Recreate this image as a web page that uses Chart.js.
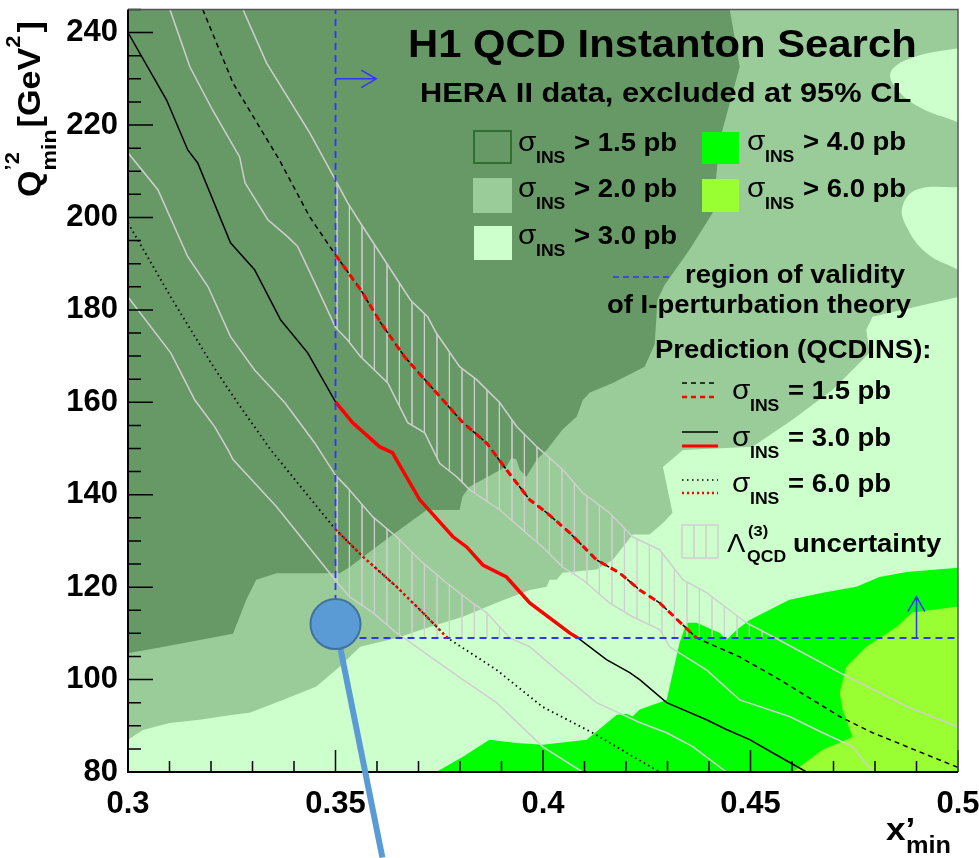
<!DOCTYPE html>
<html>
<head>
<meta charset="utf-8">
<title>H1 QCD Instanton Search</title>
<script src="https://cdn.jsdelivr.net/npm/chart.js@4.4.1/dist/chart.umd.min.js"></script>
<style>
  html, body { margin: 0; padding: 0; background: #fff; }
  #wrap { position: relative; width: 979px; height: 858px; }
</style>
</head>
<body>
<div id="wrap"><canvas id="plot"></canvas></div>
<script>
// axes
const xTicks = [0.3, 0.35, 0.4, 0.45, 0.5];
const yTicks = [80, 100, 120, 140, 160, 180, 200, 220, 240];
const X_MIN = 0.3, X_MAX = 0.5, Y_MIN = 80, Y_MAX = 245;
const xMinorStep = 0.01, yMinorStep = 5;

// region of validity of I-perturbation theory
const xValid = 0.35, yValid = 109;

// excluded at 95% CL : sigma_INS > 2.0 pb (edge of the >1.5 pb only area)
const region20 = [[0.3,105.7],[0.3093,107.2],[0.3253,109.9],[0.3285,117.3],[0.3309,121.6],[0.3358,123.0],
  [0.351,123.0],[0.3535,124.4],[0.3631,130.9],[0.372,136.7],[0.3799,136.7],[0.3806,139.6],[0.3823,141.7],
  [0.3912,146.1],[0.3924,148.0],[0.3936,147.6],[0.3944,145.4],[0.396,143.9],[0.3985,147.6],[0.4009,149.7],
  [0.4047,154.1],[0.4081,156.9],[0.4096,160.5],[0.4113,162.1],[0.4168,164.2],[0.4245,167.7],[0.4269,172.5],
  [0.4276,182.2],[0.4293,185.4],[0.4353,193.0],[0.4409,201.0],[0.4426,216.8],[0.4474,232.6],[0.445,245],
  [0.5,245],[0.5,80],[0.3,80]];
// sigma_INS > 3.0 pb
const region30 = [[0.3,87.0],[0.3036,89.1],[0.31,90.6],[0.3173,91.3],[0.3253,92.4],[0.3293,92.8],[0.3373,95.6],
  [0.3454,98.5],[0.351,102.8],[0.3559,107.1],[0.3647,109.0],[0.3727,111.4],[0.3807,113.6],[0.3888,116.6],
  [0.3968,119.4],[0.4009,120.1],[0.4016,121.6],[0.4033,121.6],[0.4047,123.1],[0.4129,123.8],[0.4168,125.9],
  [0.4216,131.4],[0.4257,131.4],[0.4293,134.2],[0.4312,136.1],[0.4289,146.0],[0.4337,149.7],[0.4505,150.4],
  [0.4601,156.2],[0.4698,162.7],[0.4787,170.7],[0.4779,175.7],[0.4794,178.5],[0.5,182.8],[0.5,80],[0.3,80]];
const region30b = [[0.5,236.6],[0.49,234.9],[0.4842,232.1],[0.4842,229.1],[0.49,224.2],[0.5,220.6]];
const region30c = [[0.5,206.6],[0.49,206.0],[0.4866,202.3],[0.4876,198.0],[0.4924,192.3],[0.5,188.7]];
// sigma_INS > 4.0 pb
const region40 = [[0.3743,80],[0.3807,83.3],[0.3871,87.0],[0.3936,86.3],[0.3999,85.9],[0.4105,87.0],[0.4178,92.4],
  [0.4201,92.6],[0.4216,92.0],[0.4233,93.5],[0.4298,95.6],[0.4329,107.9],[0.4346,112.3],[0.437,112.3],
  [0.4426,110.1],[0.4442,108.6],[0.4467,110.8],[0.4498,112.9],[0.4594,117.3],[0.4674,118.8],[0.4755,120.1],
  [0.4811,122.2],[0.4876,123.3],[0.5,124.2],[0.5,80]];
// sigma_INS > 6.0 pb
const region60 = [[0.4601,80],[0.4674,84.8],[0.4746,87.6],[0.4722,93.5],[0.4715,97.2],[0.4731,102.8],
  [0.4779,107.1],[0.4852,111.4],[0.489,114.5],[0.5,115.8],[0.5,80]];

// QCDINS predictions
const pred15 = [[0.318,245],[0.3253,229.1],[0.3365,212.4],[0.3438,200.1],[0.35,191.9],[0.3561,184.3],[0.3609,177.2],
  [0.3667,169.8],[0.3722,164.2],[0.3752,161.2],[0.3807,155.6],[0.3864,151.2],[0.3912,145.4],[0.3968,138.9],
  [0.4009,136.1],[0.4064,131.8],[0.4129,125.9],[0.4184,123.1],[0.4233,119.4],[0.4281,116.6],[0.437,109],
  [0.4474,104.9],[0.457,100.0],[0.4715,92.0],[0.4794,88.5],[0.5,81.0]];
const pred30 = [[0.3,240],[0.3093,225.4],[0.3144,214.6],[0.3168,211.8],[0.3247,194.5],[0.3305,188.7],[0.3368,177.8],
  [0.3433,170.7],[0.35,160.1],[0.3541,155.6],[0.3606,150.4],[0.3637,149.1],[0.3703,138.9],[0.3783,130.9],
  [0.3816,128.7],[0.3855,124.8],[0.3912,122.2],[0.3968,116.6],[0.4064,110.1],[0.4084,109],[0.4153,104.3],
  [0.4209,101.5],[0.4233,100.0],[0.4298,95.0],[0.4394,91.3],[0.4442,89.2],[0.4498,87.0],[0.457,83.3],[0.4635,80]];
const pred60 = [[0.3,198.8],[0.3103,182.8],[0.32,168.5],[0.3264,159.9],[0.3344,149.7],[0.35,132.5],[0.3566,126.6],
  [0.3647,120.1],[0.371,114.5],[0.377,109],[0.3888,102.1],[0.3999,94.1],[0.4119,88.5],[0.4281,80]];

// Lambda_QCD uncertainty edges
const band15Lo = [[0.3101,245],[0.3149,232.6],[0.3204,223.2],[0.3269,213.1],[0.3282,207.5],[0.3337,199.5],
  [0.3385,195.8],[0.3409,193.7],[0.345,185.9],[0.35,176.2],[0.3529,173.5],[0.356,169.9],[0.3626,164.2],
  [0.3674,155.6],[0.3715,153.4],[0.3751,146.8],[0.3792,143.9],[0.3823,141.1],[0.3896,136.7],[0.3951,132.4],
  [0.3999,128.7],[0.4047,124.4],[0.4096,121.6],[0.416,116.6],[0.4216,113.6],[0.4281,110.8],[0.4293,109],
  [0.4305,107.1],[0.4394,102.1],[0.4474,95.6],[0.4594,92.0],[0.4674,88.5],[0.4746,85.5],[0.4794,80]];
const band15Hi = [[0.3277,245],[0.3334,233.4],[0.3438,218.3],[0.35,208.1],[0.3529,203.2],[0.356,198.8],
  [0.3618,190.8],[0.3681,182.1],[0.3722,178.5],[0.3743,175.0],[0.3799,167.7],[0.384,164.9],[0.3896,159.9],
  [0.3937,154.7],[0.3985,150.4],[0.4048,145.4],[0.4096,140.4],[0.416,136.1],[0.4216,130.9],[0.4281,128.1],
  [0.4337,121.6],[0.4394,118.8],[0.449,112.3],[0.456,109],[0.4715,101.5],[0.4876,94.2],[0.5,89.8]];
const band60Hi = [[0.3,214],[0.3072,206],[0.3144,191.5],[0.3193,185],[0.3247,174.2],[0.3305,167],[0.3378,159.9],
  [0.345,151.2],[0.35,144.2],[0.3527,141.7],[0.359,135.2],[0.3647,130.9],[0.371,125.3],[0.3768,120.9],
  [0.383,116.6],[0.3864,114.5],[0.392,109],[0.3968,107.1],[0.4033,102.1],[0.4129,95.0],[0.4233,90.7],
  [0.4298,88.5],[0.4361,85.5],[0.4442,80]];
const band60Lo = [[0.3,182.8],[0.3103,170.7],[0.3161,160.5],[0.3209,154.7],[0.3241,149.7],[0.3253,147.6],
  [0.3358,137.4],[0.35,121.5],[0.3534,117.9],[0.359,114.5],[0.3647,110.1],[0.3665,109],[0.3727,105.0],
  [0.3807,100.0],[0.3888,95.0],[0.3999,85.5],[0.4095,80]];

// arrows of the validity region, and the blue marker
const arrowRight = [[0.35,230],[0.3598,230]];
const arrowRightHead = [[0.3562,231.9],[0.3598,230],[0.3562,228.1]];
const arrowUp = [[0.49,109],[0.49,117.9]];
const arrowUpHead = [[0.4879,114.7],[0.49,117.9],[0.492,114.7]];
const marker = [[0.35,112]];
const markerStem = [[0.35,112],[0.3613,61.5]];

const areaLabels = ['> 1.5 pb', '> 2.0 pb', '> 3.0 pb', '> 4.0 pb', '> 6.0 pb'];
const lineLabels = ['= 1.5 pb', '= 3.0 pb', '= 6.0 pb'];

const C_BG = '#669966', C_20 = '#99cc99', C_30 = '#ccffcc', C_40 = '#00ff00', C_60 = '#99ff33';
const C_GREY = '#cfcfcf', C_BLUE = '#3333ff', C_RED = '#ff0000';
const FONT = '"Liberation Sans", Arial, Helvetica, sans-serif';
const SX = 1.1;

const inValid = p => p[0] >= xValid && p[1] >= yValid;

function hatch() {
  const c = document.createElement('canvas');
  c.width = 25; c.height = 10;
  const g = c.getContext('2d');
  g.strokeStyle = C_GREY; g.lineWidth = 1.5;
  g.beginPath();
  g.moveTo(12, 0); g.lineTo(12, 10);
  g.moveTo(24.5, 0); g.lineTo(24.5, 10);
  g.stroke();
  return g.createPattern(c, 'repeat');
}
const hatchFill = hatch();

const poly = (data, color, extra) => Object.assign({ data, showLine: true, fill: 'shape',
  backgroundColor: color, borderWidth: 0, pointRadius: 0 }, extra);
const curve = (data, color, width, dash, extra) => Object.assign({ data, showLine: true, fill: false,
  borderColor: color, borderWidth: width, borderDash: dash || [], pointRadius: 0 }, extra);

const layers = [
  poly(region20, C_20),
  poly(region30, C_30),
  poly(region30b, C_30, { tension: 0.4 }),
  poly(region30c, C_30, { tension: 0.4 }),
  poly(region40, C_40),
  poly(region60, C_60),
  poly([...band15Lo.filter(inValid), ...band15Hi.filter(inValid).reverse()], hatchFill),
  poly([...band60Lo.filter(inValid), ...band60Hi.filter(inValid).reverse()], hatchFill),
  curve(band15Lo, C_GREY, 1.5),
  curve(band15Hi, C_GREY, 1.5),
  curve(band60Lo, C_GREY, 1.5),
  curve(band60Hi, C_GREY, 1.5),
  curve(pred15, '#000', 1.5, [5, 4]),
  curve(pred30, '#000', 1.5),
  curve(pred60, '#000', 1.8, [1.5, 3.5]),
  curve(pred15.filter(inValid), C_RED, 3, [7, 5]),
  curve(pred30.filter(inValid), C_RED, 3.5),
  curve(pred60.filter(inValid), C_RED, 2.5, [2.5, 3]),
  curve([[xValid, yValid], [xValid, Y_MAX]], C_BLUE, 1.8, [7, 5]),
  curve([[xValid, yValid], [X_MAX, yValid]], C_BLUE, 1.8, [7, 5]),
  curve(arrowRight, C_BLUE, 1.5),
  curve(arrowRightHead, C_BLUE, 1.5),
  curve(arrowUp, C_BLUE, 1.5),
  curve(arrowUpHead, C_BLUE, 1.5, [], { drawFrame: true }),
  curve(markerStem, '#5b9bd5', 6, [], { clip: false }),
  { data: marker, showLine: false, pointRadius: 25, backgroundColor: '#5b9bd5',
    borderColor: '#41719c', borderWidth: 2, clip: false }
];
layers.forEach((d, i) => { d.order = layers.length - i; });

function put(ctx, s, x, y, size, weight) {
  ctx.font = `${weight || 'bold'} ${size}px ${FONT}`;
  const w = ctx.measureText(s).width * SX;
  ctx.save();
  ctx.translate(x, y);
  ctx.scale(SX, 1);
  ctx.fillText(s, 0, 0);
  ctx.restore();
  return w;
}

function sigma(ctx, x, y, rest) {
  put(ctx, 'σ', x, y, 27, 'normal');
  put(ctx, 'INS', x + 18, y + 12, 16);
  put(ctx, rest, x + 56, y, 25);
}

function seg(ctx, x1, x2, y, color, width, dash) {
  ctx.save();
  ctx.strokeStyle = color; ctx.lineWidth = width; ctx.setLineDash(dash || []);
  ctx.beginPath(); ctx.moveTo(x1, y); ctx.lineTo(x2, y); ctx.stroke();
  ctx.restore();
}

const bgPlugin = {
  id: 'bg',
  beforeDatasetsDraw(chart) {
    const { ctx, chartArea: a } = chart;
    ctx.save();
    ctx.fillStyle = C_BG;
    ctx.fillRect(a.left, a.top, a.right - a.left, a.bottom - a.top);
    ctx.restore();
  }
};

const framePlugin = {
  id: 'frame',
  afterDatasetDraw(chart, args) {
    if (!chart.data.datasets[args.index].drawFrame) return;
    const { ctx, chartArea: a, scales: { x, y } } = chart;
    ctx.save();
    ctx.strokeStyle = '#000';
    ctx.lineWidth = 1.5;
    ctx.beginPath();
    const nY = Math.round((Y_MAX - Y_MIN) / yMinorStep);
    for (let i = 0; i <= nY; i++) {
      const v = Y_MIN + i * yMinorStep;
      const py = y.getPixelForValue(v);
      const len = yTicks.includes(v) ? 25 : 13;
      ctx.moveTo(a.left, py); ctx.lineTo(a.left + len, py);
    }
    const nX = Math.round((X_MAX - X_MIN) / xMinorStep);
    for (let i = 0; i <= nX; i++) {
      const px = x.getPixelForValue(X_MIN + i * xMinorStep);
      const len = i % 5 === 0 ? 22 : 11;
      ctx.moveTo(px, a.bottom); ctx.lineTo(px, a.bottom - len);
    }
    ctx.stroke();
    ctx.strokeStyle = '#555';
    ctx.beginPath();
    ctx.moveTo(a.left, a.top); ctx.lineTo(a.right, a.top); ctx.lineTo(a.right, a.bottom);
    ctx.stroke();
    ctx.strokeStyle = '#000';
    ctx.lineWidth = 2;
    ctx.beginPath();
    ctx.moveTo(a.left, a.top); ctx.lineTo(a.left, a.bottom); ctx.lineTo(a.right, a.bottom);
    ctx.stroke();
    ctx.restore();
  }
};

const textPlugin = {
  id: 'texts',
  afterDraw(chart) {
    const ctx = chart.ctx;
    ctx.save();
    ctx.fillStyle = '#000';
    ctx.textAlign = 'left';
    ctx.textBaseline = 'alphabetic';

    put(ctx, 'H1 QCD Instanton Search', 408, 57, 38);
    put(ctx, 'HERA II data, excluded at 95% CL', 420, 102, 28);

    // area legend
    ctx.strokeStyle = '#2f6f2f'; ctx.lineWidth = 2;
    ctx.strokeRect(474, 131, 37, 32);
    ctx.fillStyle = C_20; ctx.fillRect(473, 178, 39, 35);
    ctx.fillStyle = C_30; ctx.fillRect(474, 226, 38, 34);
    ctx.fillStyle = C_40; ctx.fillRect(702, 132, 37, 32);
    ctx.fillStyle = C_60; ctx.fillRect(702, 179, 37, 33);
    ctx.fillStyle = '#000';
    const areaPos = [[518, 151], [518, 197], [518, 244], [747, 150], [747, 197]];
    areaLabels.forEach((t, i) => sigma(ctx, areaPos[i][0], areaPos[i][1], t));

    seg(ctx, 613, 672, 277, C_BLUE, 1.5, [6, 4]);
    put(ctx, 'region of validity', 685, 283, 25);
    put(ctx, 'of I-perturbation theory', 607, 313, 25);
    put(ctx, 'Prediction (QCDINS):', 655, 358, 25);

    // prediction legend
    seg(ctx, 682, 718, 383, '#000', 1.5, [5, 4]);
    seg(ctx, 682, 718, 397, C_RED, 2.5, [5, 4]);
    seg(ctx, 682, 718, 432, '#000', 1.5);
    seg(ctx, 682, 718, 446, C_RED, 3);
    seg(ctx, 682, 718, 480, '#000', 1.5, [1.5, 3.5]);
    seg(ctx, 682, 718, 493, C_RED, 2.5, [2, 3]);
    const linePos = [399, 446, 492];
    lineLabels.forEach((t, i) => sigma(ctx, 732, linePos[i], t));

    // uncertainty legend
    ctx.strokeStyle = C_GREY; ctx.lineWidth = 1.5;
    ctx.strokeRect(682, 525, 36, 33);
    ctx.beginPath();
    ctx.moveTo(694, 525); ctx.lineTo(694, 558);
    ctx.moveTo(706, 525); ctx.lineTo(706, 558);
    ctx.stroke();
    put(ctx, 'Λ', 727, 552, 25, 'normal');
    put(ctx, '(3)', 748, 536, 15);
    put(ctx, 'QCD', 747, 562, 16);
    put(ctx, 'uncertainty', 793, 552, 25);

    // x axis title
    put(ctx, 'x’', 886, 840, 32);
    put(ctx, 'min', 906, 853, 23);

    // y axis title
    ctx.translate(40, 197);
    ctx.rotate(-Math.PI / 2);
    let p = put(ctx, 'Q', 0, 0, 31);
    put(ctx, '’2', p, -21, 20);
    p += put(ctx, 'min', p, 16, 21);
    p += 2;
    p += put(ctx, '[GeV', p, 0, 31);
    p += put(ctx, '2', p, -20, 20) + 3;
    put(ctx, ']', p, 0, 31);
    ctx.restore();
  }
};

const tickFont = { family: FONT, size: 31, weight: 'bold' };

new Chart(document.getElementById('plot'), {
  type: 'scatter',
  data: { datasets: layers },
  options: {
    responsive: true,
    maintainAspectRatio: false,
    animation: false,
    events: [],
    layout: { autoPadding: false, padding: { top: 9.5, right: 21, left: 0, bottom: 0 } },
    plugins: { legend: { display: false }, tooltip: { enabled: false } },
    scales: {
      x: {
        type: 'linear', min: X_MIN, max: X_MAX,
        grid: { display: false, drawTicks: false },
        border: { display: false },
        afterBuildTicks: a => { a.ticks = xTicks.map(v => ({ value: v })); },
        afterFit: s => { s.height = 86; s.paddingLeft = 0; s.paddingRight = 0; },
        ticks: { padding: 14, maxRotation: 0, minRotation: 0, autoSkip: false,
                 color: '#000', font: tickFont, callback: v => String(v) }
      },
      y: {
        type: 'linear', min: Y_MIN, max: Y_MAX,
        grid: { display: false, drawTicks: false },
        border: { display: false },
        afterBuildTicks: a => { a.ticks = yTicks.map(v => ({ value: v })); },
        afterFit: s => { s.width = 128; s.paddingTop = 0; s.paddingBottom = 0; },
        ticks: { padding: 10, autoSkip: false, color: '#000', font: tickFont,
                 callback: v => String(v) }
      }
    }
  },
  plugins: [bgPlugin, framePlugin, textPlugin]
});
</script>
</body>
</html>
